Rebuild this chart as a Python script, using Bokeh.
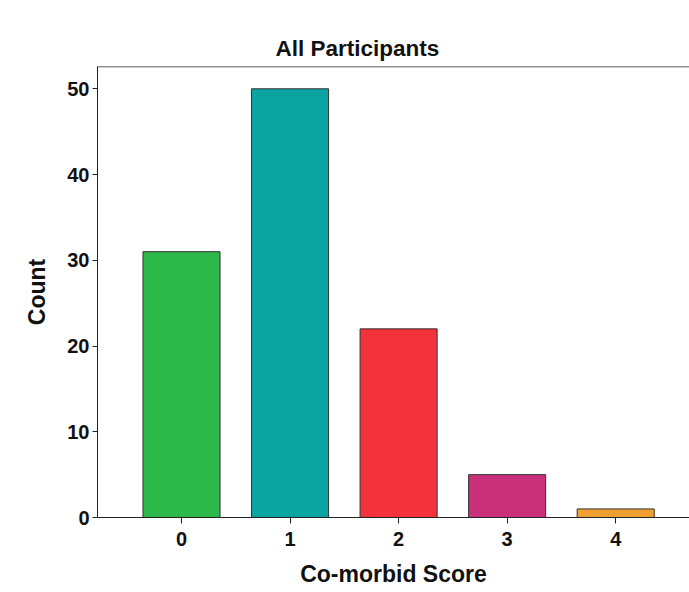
from bokeh.plotting import figure
from bokeh.models import Span, FixedTicker, Range1d, ColumnDataSource
from bokeh.embed import file_html
from bokeh.resources import INLINE

scores = [0, 1, 2, 3, 4]
counts = [31, 50, 22, 5, 1]
colors = ["#2DB84A", "#0CA4A2", "#F2333B", "#C92F7B", "#F0A030"]
y_ticks = [0, 10, 20, 30, 40, 50]

src = ColumnDataSource(dict(x=scores, top=counts, color=colors))

FONT = "Liberation Sans"

p = figure(width=689, height=592, output_backend="svg", toolbar_location=None,
           x_range=Range1d(-0.774, 4.68), y_range=Range1d(0, 52.6),
           min_border_left=97, min_border_right=0, min_border_top=66,
           min_border_bottom=75)

p.vbar(x="x", top="top", bottom=0, width=0.71, fill_color="color",
       line_color="#333333", line_width=1, source=src)

p.title.text = "All Participants"
p.title.align = "left"
p.title.offset = 178
p.title.standoff = 12
p.title.text_font = FONT
p.title.text_font_size = "22.5px"
p.title.text_font_style = "bold"
p.title.text_color = "#111111"

p.outline_line_color = None
p.grid.visible = False
p.background_fill_color = "white"
p.border_fill_color = "white"

p.add_layout(Span(location=52.6, dimension="width", line_color="#222222", line_width=1.5))

p.xaxis.ticker = FixedTicker(ticks=scores)
p.yaxis.ticker = FixedTicker(ticks=y_ticks)
p.xaxis.axis_label = "Co-morbid Score"
p.yaxis.axis_label = "Count"

for ax in (p.xaxis, p.yaxis):
    ax.axis_line_color = "#222222"
    ax.major_tick_line_color = "#222222"
    ax.minor_tick_line_color = None
    ax.major_tick_in = 0
    ax.major_label_text_font = FONT
    ax.major_label_text_font_size = "20px"
    ax.major_label_text_font_style = "bold"
    ax.major_label_text_color = "#111111"
    ax.axis_label_text_font = FONT
    ax.axis_label_text_font_size = "23px"
    ax.axis_label_text_font_style = "bold"
    ax.axis_label_text_color = "#111111"

p.xaxis.major_tick_out = 6
p.yaxis.major_tick_out = 5
p.xaxis.major_label_standoff = 8
p.yaxis.major_label_standoff = 3
p.xaxis.axis_label_standoff = 12
p.yaxis.axis_label_standoff = 14

open("out.html", "w").write(file_html(p, INLINE))
